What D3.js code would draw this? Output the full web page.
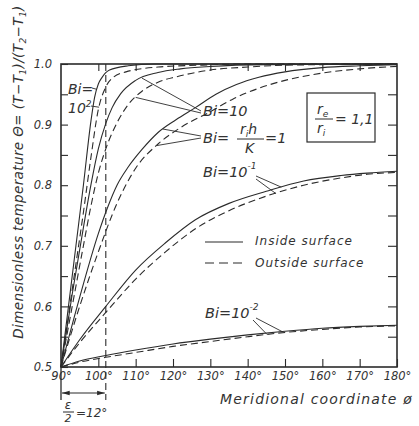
<!DOCTYPE html>
<html><head><meta charset="utf-8">
<script src="https://cdn.jsdelivr.net/npm/d3@7"></script>
<style>
html,body{margin:0;padding:0;background:#fff;}
svg text{font-family:"DejaVu Sans",sans-serif;font-style:italic;fill:#333;}
</style></head>
<body>
<svg id="chart" width="419" height="426"></svg>
<script>
// ---- data (phi in degrees, dimensionless temperature) ----
const xTicks = [90,100,110,120,130,140,150,160,170,180];
const yTicks = [0.5,0.6,0.7,0.8,0.9,1.0];
const yMinor = [0.55,0.65,0.75,0.85,0.95];

const bi100Inside  = [[90,0.5],[92,0.6],[94,0.7],[96,0.8],[98,0.905],[99,0.945],[100,0.967],[101,0.978],[103,0.99],[108,0.997],[115,1.0],[180,1.0]];
const bi100Outside = [[90,0.5],[92,0.585],[94,0.67],[96,0.755],[98,0.845],[100,0.925],[102,0.962],[104,0.978],[107.4,0.987],[116,0.995],[127,0.998],[140,1.0],[180,1.0]];
const bi10Inside   = [[90,0.5],[93,0.62],[96,0.73],[98,0.8],[100,0.86],[102,0.902],[103.7,0.928],[106,0.951],[110,0.973],[116,0.986],[122,0.992],[130,0.996],[145,0.999],[180,1.0]];
const bi10Outside  = [[90,0.5],[93,0.6],[96,0.7],[98,0.765],[100,0.82],[102,0.86],[105,0.903],[108,0.933],[111.7,0.955],[116,0.97],[121,0.979],[130,0.99],[140,0.995],[150,0.998],[180,1.0]];
const bi1Inside    = [[90,0.5],[95,0.615],[100,0.72],[102.4,0.762],[105,0.8],[108,0.83],[111.7,0.859],[116,0.887],[120.8,0.908],[126,0.928],[131.5,0.95],[137,0.966],[143,0.978],[150,0.987],[160,0.994],[170,0.997],[180,0.999]];
const bi1Outside   = [[90,0.5],[95,0.6],[100,0.69],[105,0.77],[110,0.828],[116,0.868],[122,0.895],[129.6,0.92],[136,0.942],[143,0.96],[150,0.973],[160,0.985],[170,0.992],[180,0.996]];
const bi01Inside   = [[90,0.5],[95,0.545],[102,0.6],[110,0.66],[118,0.705],[126,0.743],[135,0.77],[145,0.79],[155,0.807],[165,0.816],[172,0.82],[180,0.823]];
const bi01Outside  = [[90,0.5],[95,0.54],[102,0.59],[110,0.645],[118,0.69],[126,0.728],[135,0.758],[145,0.782],[155,0.8],[165,0.812],[172,0.818],[180,0.821]];
const bi001Inside  = [[90,0.5],[95,0.51],[102,0.519],[110,0.528],[120,0.538],[130,0.546],[140,0.553],[150,0.559],[160,0.564],[170,0.567],[180,0.569]];
const bi001Outside = [[90,0.5],[95,0.508],[102,0.516],[110,0.524],[120,0.534],[130,0.542],[140,0.55],[150,0.557],[160,0.562],[170,0.566],[180,0.568]];
const halfAngle = 12; // epsilon/2 in degrees

const curves = [
  {d:bi100Inside, dash:null},{d:bi100Outside, dash:"7,4"},
  {d:bi10Inside, dash:null},{d:bi10Outside, dash:"7,4"},
  {d:bi1Inside, dash:null},{d:bi1Outside, dash:"7,4"},
  {d:bi01Inside, dash:null},{d:bi01Outside, dash:"7,4"},
  {d:bi001Inside, dash:null},{d:bi001Outside, dash:"7,4"}
];

const svg = d3.select("#chart");
const x = d3.scaleLinear().domain([90,180]).range([61,397]);
const y = d3.scaleLinear().domain([0.5,1.0]).range([367,64]);
const ink = "#2b2b2b";

// frame
svg.append("rect").attr("x",x(90)).attr("y",y(1)).attr("width",x(180)-x(90)).attr("height",y(0.5)-y(1))
  .attr("fill","none").attr("stroke",ink).attr("stroke-width",1.6);

function styleAxis(g){ g.select(".domain").remove(); g.selectAll("line").attr("stroke",ink).attr("stroke-width",1.1);
  g.selectAll("text").attr("fill","#333").style("font-family","DejaVu Sans").style("font-style","italic"); }

const xAxis = svg.append("g").attr("transform",`translate(0,${y(0.5)})`)
  .call(d3.axisBottom(x).tickValues(xTicks).tickSizeInner(-8).tickSizeOuter(0).tickPadding(5).tickFormat(d=>d+"°"));
styleAxis(xAxis); xAxis.selectAll("text").attr("font-size",11.5);

const yAxis = svg.append("g").attr("transform",`translate(${x(90)},0)`)
  .call(d3.axisLeft(y).tickValues(yTicks).tickSizeInner(-7).tickSizeOuter(0).tickPadding(9).tickFormat(d3.format(".1f")));
styleAxis(yAxis); yAxis.selectAll("text").attr("font-size",11.5);
const yAxisMinor = svg.append("g").attr("transform",`translate(${x(90)},0)`)
  .call(d3.axisLeft(y).tickValues(yMinor).tickSizeInner(-7).tickSizeOuter(0).tickFormat(""));
styleAxis(yAxisMinor);
const yRight = svg.append("g").attr("transform",`translate(${x(180)},0)`)
  .call(d3.axisRight(y).tickValues(yMinor.concat([0.6,0.7,0.8,0.9])).tickSizeInner(-9).tickSizeOuter(0).tickFormat(""));
styleAxis(yRight);
const xTop = svg.append("g").attr("transform",`translate(0,${y(1)})`)
  .call(d3.axisTop(x).tickValues(xTicks.slice(1,-1)).tickSizeInner(-7).tickSizeOuter(0).tickFormat(""));
styleAxis(xTop);

// curves
const line = d3.line().x(d=>x(d[0])).y(d=>y(d[1])).curve(d3.curveMonotoneX);
svg.append("g").selectAll("path").data(curves).join("path")
  .attr("d",c=>line(c.d)).attr("fill","none").attr("stroke",ink).attr("stroke-width",1.1)
  .attr("stroke-dasharray",c=>c.dash);

// epsilon/2 dimension
svg.append("line").attr("x1",x(90+halfAngle)).attr("x2",x(90+halfAngle)).attr("y1",y(1)).attr("y2",400)
  .attr("stroke",ink).attr("stroke-width",1.1).attr("stroke-dasharray","7,4");
svg.append("line").attr("x1",x(90)).attr("x2",x(90)).attr("y1",y(0.5)).attr("y2",400).attr("stroke",ink).attr("stroke-width",1.3);
const defs = svg.append("defs");
defs.append("marker").attr("id","ah").attr("viewBox","0 0 10 10").attr("refX",10).attr("refY",5)
  .attr("markerWidth",7).attr("markerHeight",7).attr("orient","auto-start-reverse")
  .append("path").attr("d","M0,2 L10,5 L0,8 Z").attr("fill",ink);
svg.append("line").attr("x1",x(90)+1).attr("x2",x(90+halfAngle)-1).attr("y1",393).attr("y2",393)
  .attr("stroke",ink).attr("stroke-width",1.1).attr("marker-start","url(#ah)").attr("marker-end","url(#ah)");
svg.append("text").attr("x",68).attr("y",409).attr("text-anchor","middle").attr("font-size",12).text("ε");
svg.append("line").attr("x1",63).attr("x2",74).attr("y1",412).attr("y2",412).attr("stroke",ink);
svg.append("text").attr("x",68).attr("y",422).attr("text-anchor","middle").attr("font-size",11).text("2");
svg.append("text").attr("x",76).attr("y",417).attr("font-size",12).text("=12°");

// helper: value on a curve at phi (for leader line ends)
function at(c,phi){ for(let i=1;i<c.length;i++){ if(phi<=c[i][0]){ const a=c[i-1],b=c[i]; return a[1]+(b[1]-a[1])*(phi-a[0])/(b[0]-a[0]); } } return c[c.length-1][1]; }
function leader(x1,y1,c,phi){ svg.append("line").attr("x1",x1).attr("y1",y1).attr("x2",x(phi)).attr("y2",y(at(c,phi)))
  .attr("stroke",ink).attr("stroke-width",0.9); }

// Bi = 10^2
svg.append("text").attr("x",68).attr("y",94).attr("font-size",14).text("Bi=");
const t2 = svg.append("text").attr("x",68).attr("y",113).attr("font-size",14);
t2.append("tspan").text("10"); t2.append("tspan").attr("dy",-6).attr("font-size",9).text("2");
leader(92,88,bi100Inside,99.6); leader(91,106,bi100Outside,100.2);

// Bi = 10
svg.append("text").attr("x",203).attr("y",116).attr("font-size",14.5).text("Bi=10");
leader(201,111,bi10Inside,111.7); leader(201,113,bi10Outside,110);

// Bi = r_i h / K = 1
svg.append("text").attr("x",203).attr("y",143).attr("font-size",14.5).text("Bi=");
const fr = svg.append("text").attr("x",240).attr("y",134).attr("font-size",14);
fr.append("tspan").text("r"); fr.append("tspan").attr("dy",3).attr("font-size",9).text("i"); fr.append("tspan").attr("dy",-3).text("h");
svg.append("line").attr("x1",237).attr("x2",264).attr("y1",139).attr("y2",139).attr("stroke",ink);
svg.append("text").attr("x",245).attr("y",153).attr("font-size",14).text("K");
svg.append("text").attr("x",265).attr("y",143).attr("font-size",14.5).text("=1");
leader(201,136,bi1Inside,117.3); leader(201,138,bi1Outside,115.6);

// Bi = 10^-1
const t1 = svg.append("text").attr("x",203).attr("y",177).attr("font-size",14.5);
t1.append("tspan").text("Bi=10"); t1.append("tspan").attr("dy",-8).attr("font-size",9).text("-1");
leader(256,176,bi01Inside,149); leader(256,179,bi01Outside,147.5);

// Bi = 10^-2
const t0 = svg.append("text").attr("x",205).attr("y",318).attr("font-size",14.5);
t0.append("tspan").text("Bi=10"); t0.append("tspan").attr("dy",-8).attr("font-size",9).text("-2");
leader(253,320,bi001Outside,145.2); leader(256,318,bi001Inside,149.2);

// r_e / r_i box
svg.append("rect").attr("x",307).attr("y",93).attr("width",68).attr("height",49).attr("fill","none").attr("stroke",ink).attr("stroke-width",1.2);
const re = svg.append("text").attr("x",317).attr("y",114).attr("font-size",14);
re.append("tspan").text("r"); re.append("tspan").attr("dy",3).attr("font-size",9).text("e");
svg.append("line").attr("x1",315).attr("x2",333).attr("y1",119).attr("y2",119).attr("stroke",ink);
const ri = svg.append("text").attr("x",317).attr("y",133).attr("font-size",14);
ri.append("tspan").text("r"); ri.append("tspan").attr("dy",3).attr("font-size",9).text("i");
svg.append("text").attr("x",335).attr("y",124).attr("font-size",14).text("= 1,1");

// legend
svg.append("line").attr("x1",205).attr("x2",243).attr("y1",242).attr("y2",242).attr("stroke",ink).attr("stroke-width",1.1);
svg.append("line").attr("x1",205).attr("x2",243).attr("y1",263).attr("y2",263).attr("stroke",ink).attr("stroke-width",1.1).attr("stroke-dasharray","9,5");
svg.append("text").attr("x",255).attr("y",245).attr("font-size",12).attr("letter-spacing",1).text("Inside surface");
svg.append("text").attr("x",255).attr("y",267).attr("font-size",12).attr("letter-spacing",1).text("Outside surface");

// axis titles
svg.append("text").attr("x",220).attr("y",404).attr("font-size",14).attr("letter-spacing",1.2).text("Meridional coordinate ø");
const yt = svg.append("text").attr("transform","translate(23,172) rotate(-90)").attr("text-anchor","middle")
  .attr("font-size",13.5).attr("letter-spacing",0.4);
yt.append("tspan").text("Dimensionless temperature Θ= (T−T");
yt.append("tspan").attr("dy",3).attr("font-size",9).text("1");
yt.append("tspan").attr("dy",-3).text(")/(T");
yt.append("tspan").attr("dy",3).attr("font-size",9).text("2");
yt.append("tspan").attr("dy",-3).text("−T");
yt.append("tspan").attr("dy",3).attr("font-size",9).text("1");
yt.append("tspan").attr("dy",-3).text(")");
</script>
</body></html>
